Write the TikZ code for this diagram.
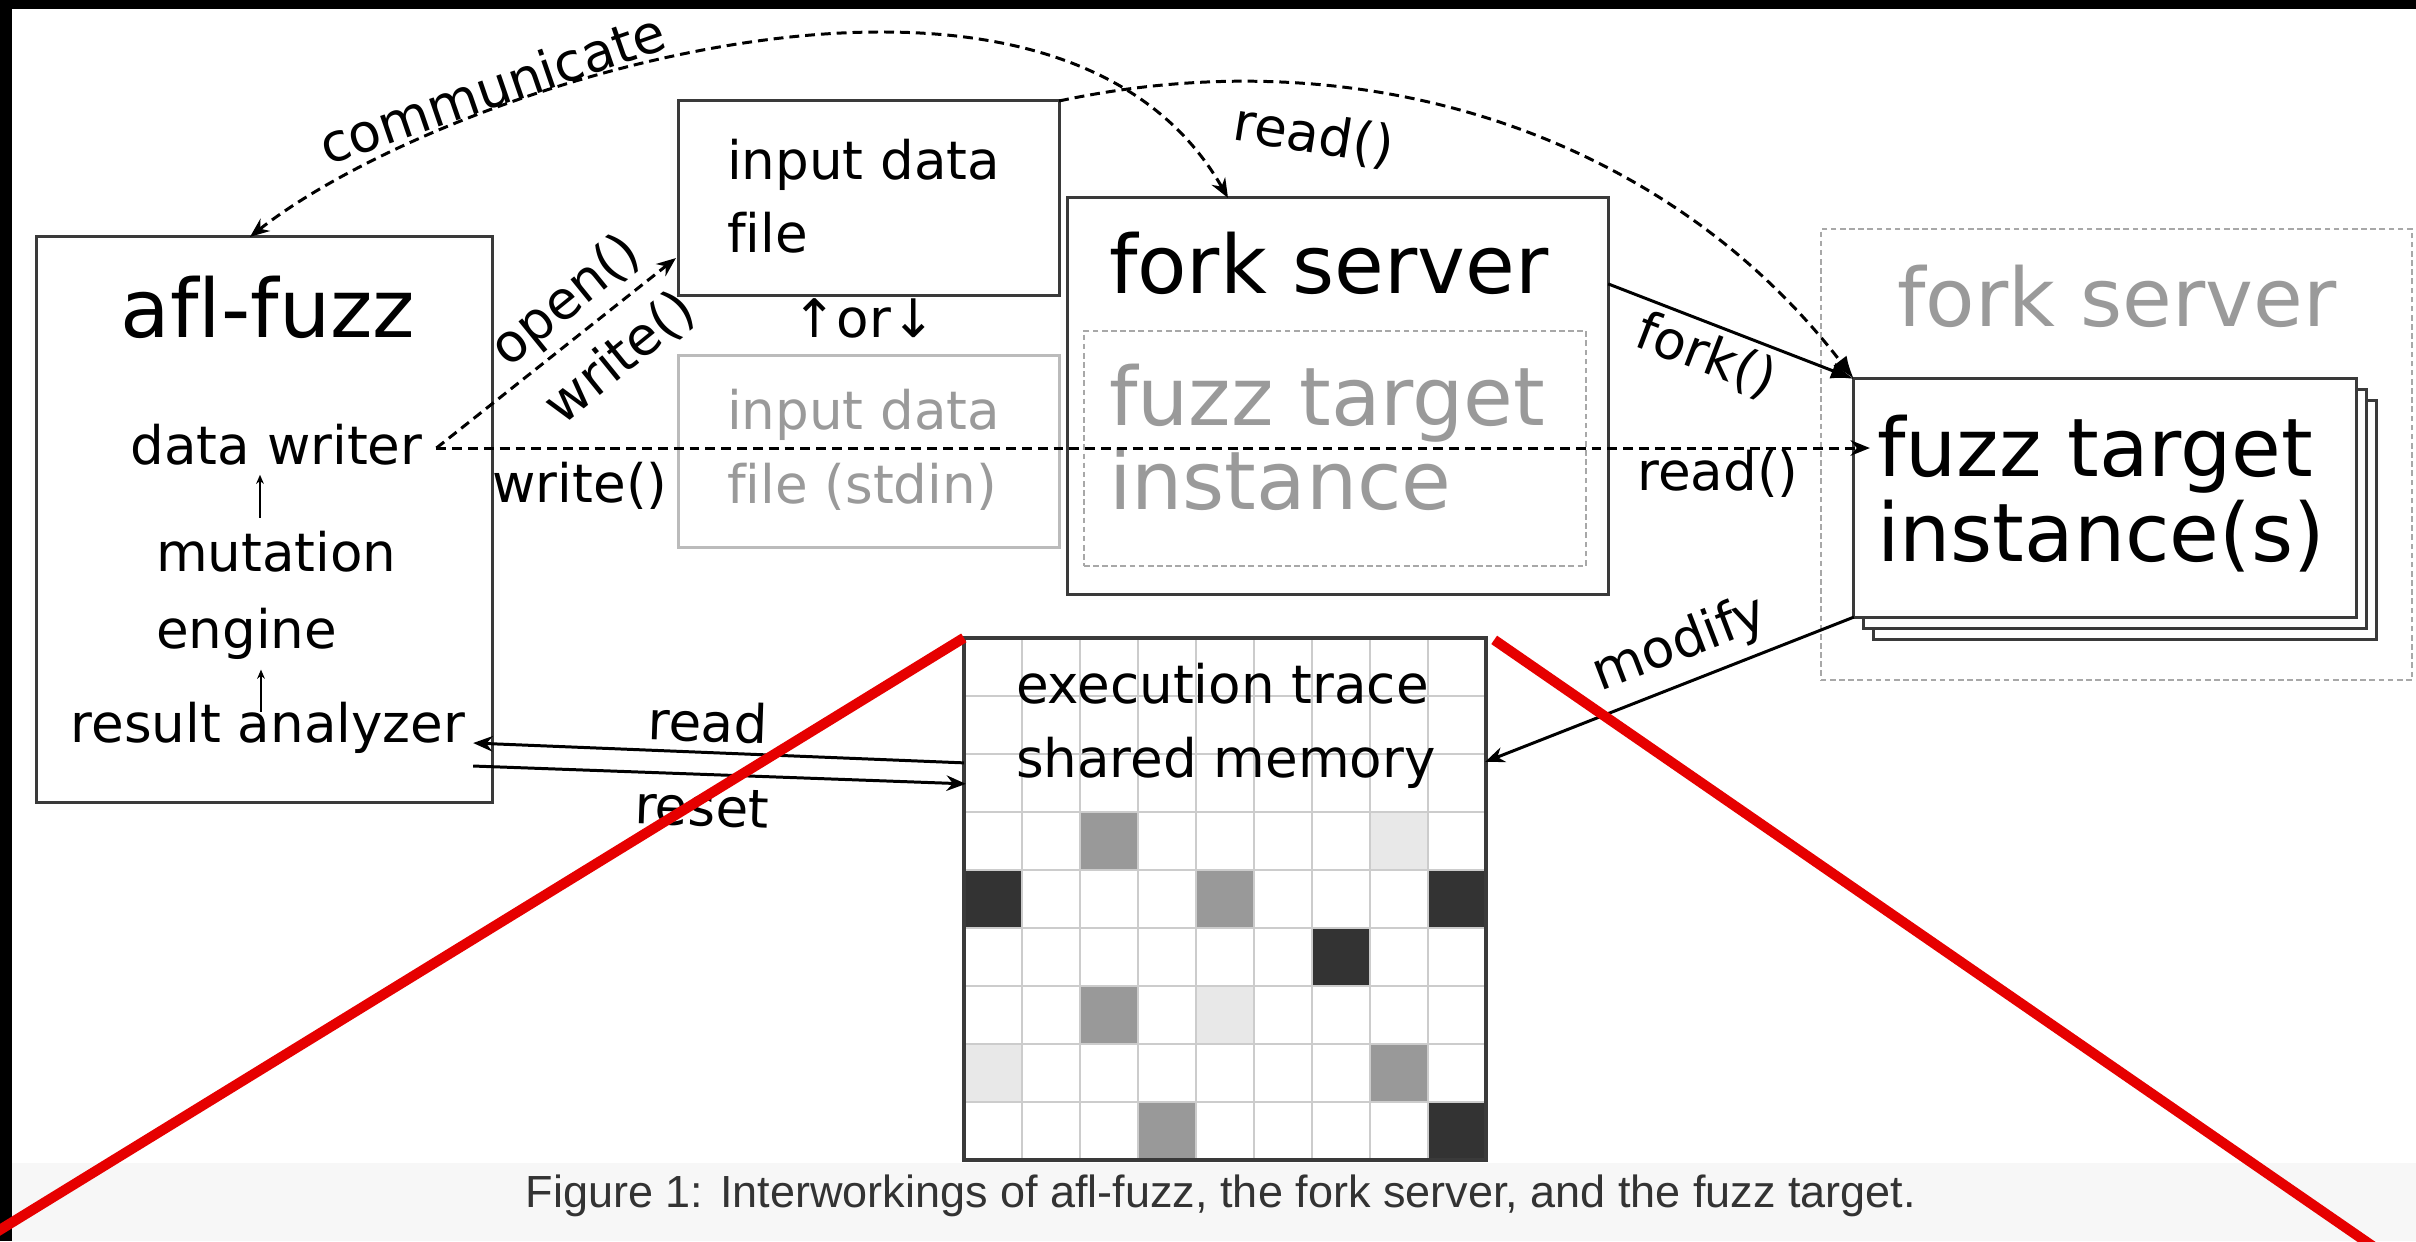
\documentclass[tikz,border=0pt]{standalone}
\usepackage{fontspec}
\setmainfont{DejaVu Sans}[Ligatures=NoCommon]
\newfontfamily\capfont{Liberation Sans}[Ligatures=NoCommon]
\usetikzlibrary{arrows.meta,calc}
\definecolor{bord}{HTML}{3A3A3A}
\definecolor{ghost}{HTML}{9A9A9A}
\definecolor{ghostline}{HTML}{BBBBBB}
\definecolor{dashgray}{HTML}{A8A8A8}
\definecolor{gridline}{HTML}{CCCCCC}
\definecolor{cdark}{HTML}{333333}
\definecolor{cmid}{HTML}{999999}
\definecolor{clight}{HTML}{E8E8E8}
\definecolor{capbg}{HTML}{F7F7F7}
\definecolor{capfg}{HTML}{333333}
\definecolor{annot}{HTML}{E60000}
\begin{document}
\begin{tikzpicture}[x=0.01cm,y=-0.01cm,
  box/.style={draw=bord, line width=0.85pt, fill=white, inner sep=0pt, outer sep=0pt, rectangle},
  dbox/.style={draw=dashgray, line width=0.45pt, dash pattern=on 1.6pt off 1pt, inner sep=0pt, outer sep=0pt, rectangle},
  txt/.style={inner sep=0pt, outer sep=0pt, text=black},
  med/.style={font=\fontsize{15.1}{18}\selectfont},
  big/.style={font=\fontsize{23}{28}\selectfont},
  dsh/.style={draw=black, line width=0.85pt, dash pattern=on 2.8pt off 1.7pt},
  sol/.style={draw=black, line width=0.85pt},
  hd/.style={-{Stealth[length=5.5pt,width=4.4pt]}},
  bighd/.style={-{Latex[length=6.5pt,width=4.8pt]}},
  tinyarr/.style={draw=black, line width=0.45pt, -{Stealth[length=2.6pt,width=2.2pt]}},
  redline/.style={draw=annot, line width=2.9pt},
]
\useasboundingbox (0,0) rectangle (2416,1241);
\fill[white] (0,0) rectangle (2416,1241);
\fill[capbg] (0,1163) rectangle (2416,1241);
\fill[black] (0,0) rectangle (2416,9);
\fill[black] (0,0) rectangle (12,1241);

% boxes
\node[box, minimum width=4.55cm, minimum height=5.65cm] (afl) at (264.5,519.5) {};
\node[box, minimum width=3.80cm, minimum height=1.94cm] (inbox) at (869,198) {};
\node[box, draw=ghostline, minimum width=3.80cm, minimum height=1.91cm] (stdinbox) at (869,451.5) {};
\node[box, minimum width=5.40cm, minimum height=3.96cm] (fs) at (1338,396) {};
\node[dbox, minimum width=5.02cm, minimum height=2.35cm] (fsinner) at (1335,448.5) {};
\node[dbox, minimum width=5.91cm, minimum height=4.51cm] (fsright) at (2116.5,454.5) {};
\node[box, minimum width=5.02cm, minimum height=2.38cm] (ftc) at (2125,520) {};
\node[box, minimum width=5.02cm, minimum height=2.38cm] (ftb) at (2115,509) {};
\node[box, minimum width=5.02cm, minimum height=2.38cm] (ft) at (2105,498) {};
\node[inner sep=0pt, outer sep=0pt, minimum size=5.22cm, fill=white] (grid) at (1225,899) {};

% memory grid
\foreach \r/\c/\col in {3/2/cmid,3/7/clight,4/0/cdark,4/4/cmid,4/8/cdark,5/6/cdark,6/2/cmid,6/4/clight,7/0/clight,7/7/cmid,8/3/cmid,8/8/cdark}
  \fill[\col] ($(grid.north west)+(\c*58,\r*58)$) rectangle ++(58,58);
\foreach \i in {1,...,8}{
  \draw[gridline, line width=0.55pt] ($(grid.north west)+(\i*58,0)$) -- ($(grid.south west)+(\i*58,0)$);
  \draw[gridline, line width=0.55pt] ($(grid.north west)+(0,\i*58)$) -- ($(grid.north east)+(0,\i*58)$);
}
\draw[draw=bord, line width=1.1pt] (grid.north west) rectangle (grid.south east);

% texts
\node[txt, big, anchor=base] (tafl) at (268,337) {afl-fuzz};
\node[txt, med, anchor=base] (dw) at (276.5,464) {data writer};
\node[txt, anchor=north west, align=left, font=\fontsize{15.1}{21.9}\selectfont] (mut) at (156,530.7) {mutation\\engine};
\node[txt, med, anchor=base] (ra) at (268,742) {result analyzer};
\node[txt, anchor=north west, align=left, font=\fontsize{15.1}{20.8}\selectfont] (tin) at (727,138.7) {input data\\file};
\node[txt, med, anchor=base] (tor) at (864,337) {↑or↓};
\node[txt, anchor=north west, align=left, text=ghost, font=\fontsize{15.1}{21.05}\selectfont] (tstdin) at (727,388.7) {input data\\file (stdin)};
\node[txt, big, anchor=base west] (tfs) at (1109,293) {fork server};
\node[txt, anchor=north west, align=left, text=ghost, font=\fontsize{23}{23.9}\selectfont] (tfti) at (1109,364.4) {fuzz target\\instance};
\node[txt, big, anchor=base west, text=ghost] (tfs2) at (1897,326) {fork server};
\node[txt, anchor=north west, align=left, font=\fontsize{23}{24.2}\selectfont] (tft) at (1877,415.4) {fuzz target\\instance(s)};
\node[txt, anchor=north west, align=left, font=\fontsize{15.1}{21.3}\selectfont] (tmem) at (1016,662.7) {execution trace\\shared memory};

% connectors
\coordinate (dws) at ($(dw.base east)+(14,-16)$);
\draw[dsh, {Stealth[length=5.5pt,width=4.4pt]}-{Stealth[length=5.5pt,width=4.4pt]}] ($(afl.north)+(-14.5,0)$) .. controls (447,82) and (1053,-108) .. ($(fs.north)+(-110,0)$);
\node[txt, med, rotate=19] (lcomm) at (492,88) {communicate};

\draw[dsh, bighd] (inbox.north east) .. controls (1373,34) and (1671,141) .. (ft.north west);
\node[txt, med, rotate=-9] (lread1) at (1314,136) {read()};

\draw[sol, bighd] ($(fs.north east)+(0,86)$) -- (ft.north west);
\node[txt, med, rotate=-21] (lfork) at (1706,356) {fork()};

\draw[dsh, hd] (dws) -- ($(inbox.south west)+(-3,-37)$);
\node[txt, med, rotate=39] (lopen) at (567,302) {open()};
\node[txt, med, rotate=39] (lwrite1) at (620,358) {write()};

\draw[dsh, hd] (dws) -- ($(ft.west |- dws)+(16,0)$);
\node[txt, med] (lwrite2) at (580,486) {write()};
\node[txt, med] (lread2) at (1718,474) {read()};

\draw[sol, hd] (ft.south west) -- ($(grid.north east)+(-1,124)$);
\node[txt, med, rotate=21] (lmod) at (1680,645) {modify};

\draw[sol, hd] ($(grid.north west)+(0,125)$) -- ($(ra.base east)+(8,1)$);
\draw[sol, hd] ($(ra.base east)+(8,24)$) -- ($(grid.north west)+(2,146)$);
\node[txt, med, rotate=-2] (lread3) at (708,722) {read};
\node[txt, med, rotate=-2] (lreset) at (702,808) {reset};

\coordinate (u1) at (260,0);
\coordinate (u2) at (261,0);
\draw[tinyarr] ($(mut.north -| u1)+(0,-13)$) -- ($(dw.south -| u1)+(0,10)$);
\draw[tinyarr] ($(ra.north -| u2)+(0,10)$) -- ($(mut.south -| u2)+(0,10.5)$);

% caption
\node[inner sep=0pt, anchor=base, text=capfg, font=\capfont\fontsize{12.8}{15}\selectfont] (cap) at (1221,1207) {Figure 1: Interworkings of afl-fuzz, the fork server, and the fuzz target.};

% red annotation lines
\begin{scope}
\clip (0,0) rectangle (2416,1241);
\draw[redline] (grid.north west) -- (-59,1266);
\draw[redline] ($(grid.north east)+(8,2)$) -- (2400,1265);
\end{scope}
\end{tikzpicture}
\end{document}
